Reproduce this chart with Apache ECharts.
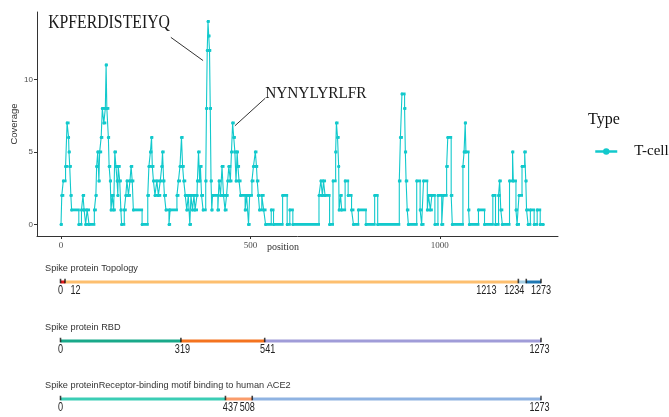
<!DOCTYPE html>
<html><head><meta charset="utf-8">
<script src="https://cdn.jsdelivr.net/npm/echarts@6/dist/echarts.min.js"></script>
<style>html,body{margin:0;padding:0;background:#fff}#c{width:669px;height:417px}</style>
</head><body><div id="c"></div>
<script>
// ---- data ----
// coverage profile: [position, coverage] breakpoints (value holds until next position)
const coverage = [
[0,0],[2,2],[6,3],[12,4],[16,7],[20,6],[21,5],[23,4],[26,2],[28,1],[47,0],[54,1],[58,2],[61,1],[65,0],[69,1],[74,0],
[88,1],[92,2],[94,4],[97,5],[100,3],[102,5],[106,6],[109,8],[113,7],[117,8],[119,11],[121,8],[125,6],[127,4],[130,3],
[132,1],[135,2],[139,1],[142,5],[145,4],[148,3],[150,2],[151,4],[155,3],[158,1],[160,0],[167,1],[171,2],[174,3],[178,2],
[182,3],[185,4],[188,3],[191,1],[214,0],[229,2],[232,4],[236,5],[239,6],[241,4],[244,3],[248,2],[253,3],[257,2],[262,3],
[266,4],[268,5],[271,3],[273,2],[277,1],[285,0],[288,1],[306,2],[310,3],[314,4],[318,6],[321,4],[324,3],[328,2],[332,1],
[336,2],[340,0],[343,2],[347,1],[351,2],[354,1],[359,2],[360,3],[363,5],[366,3],[368,4],[371,2],[375,1],[382,3],[384,8],
[386,12],[388,14],[390,13],[392,12],[394,8],[396,3],[398,1],[400,2],[414,1],[417,3],[421,2],[425,4],[429,2],[433,1],
[437,2],[440,3],[443,4],[447,3],[450,5],[453,7],[456,6],[459,5],[462,3],[465,5],[467,4],[470,3],[474,2],[486,1],[490,2],
[495,0],[498,2],[504,3],[508,4],[513,5],[516,4],[518,3],[521,2],[524,1],[530,2],[535,1],[540,0],[555,1],[561,0],[585,2],
[597,0],[604,1],[612,0],[681,2],[686,3],[690,2],[693,3],[697,2],[709,0],[718,3],[725,5],[727,7],[730,6],[733,4],[734,1],
[738,2],[741,1],[750,3],[758,2],[767,1],[772,0],[785,1],[805,0],[828,2],[836,0],[893,3],[896,6],[900,9],[907,8],[909,5],
[911,3],[914,1],[917,0],[939,3],[948,1],[952,0],[957,3],[967,1],[970,2],[975,1],[979,2],[987,0],[995,2],[1005,0],
[1009,2],[1018,4],[1021,6],[1030,2],[1033,0],[1061,4],[1064,5],[1067,7],[1069,5],[1076,1],[1078,0],[1102,1],[1118,0],
[1140,2],[1147,0],[1155,2],[1158,3],[1161,1],[1165,0],[1184,3],[1192,5],[1194,3],[1201,1],[1204,0],[1209,2],[1217,4],
[1224,5],[1227,3],[1229,1],[1233,0],[1239,1],[1249,0],[1257,1],[1265,0],[1273,0]
];
const xTicks = [0, 500, 1000];
const yTicks = [0, 5, 10];
const seriesName = 'T-cell';
const legendTitle = 'Type';

const topoBreaks = [0, 12, 1213, 1234, 1273];
const rbdBreaks = [0, 319, 541, 1273];
const aceBreaks = [0, 437, 508, 1273];
const trackTitles = ['Spike protein Topology', 'Spike protein RBD', 'Spike proteinReceptor-binding motif binding to human ACE2'];

// annotations: text anchored at data coords, leader line between data coords
const annotations = [
  {text: 'KPFERDISTEIYQ', at: [-34, 13.9], from: [290, 12.9], to: [375, 11.3]},
  {text: 'NYNYLYRLFR', at: [539, 9.05], from: [539, 8.7], to: [459, 6.8]}
];

// ---- styles ----
const traceColor = '#12C9CC';
const annStyle = [{size: 19, scaleX: 0.83}, {size: 17, scaleX: 0.9}];
const trackStyles = [
  {breaks: topoBreaks, colors: ['#E31A1C', '#FDBF6F', '#A6CEE3', '#1F78B4'], lineY: 282, titleY: 268, shifts: [0, 10.5, -32, -12, 0]},
  {breaks: rbdBreaks, colors: ['#19A98A', '#F4731F', '#A09CD8'], lineY: 341, titleY: 327, shifts: [0, 1.5, 3, -1.5]},
  {breaks: aceBreaks, colors: ['#3BCDB5', '#FA9C6B', '#8FB3E2'], lineY: 399, titleY: 385, shifts: [0, 5, -5, -1.5]}
];

const chart = echarts.init(document.getElementById('c'), null, {renderer: 'canvas'});

const grids = [{left: 37, right: 111, top: 12, bottom: 181, containLabel: false, outerBoundsMode: 'none'}];
const xAxes = [{
  type: 'value', gridIndex: 0, min: -63.4, max: 1312,
  axisLine: {show: true, onZero: false, lineStyle: {color: '#333', width: 1}},
  axisTick: {show: true, length: 3, customValues: xTicks, lineStyle: {color: '#333'}},
  axisLabel: {customValues: xTicks, formatter: v => String(v), fontFamily: 'Liberation Serif', fontSize: 9, color: '#4d4d4d', margin: 5},
  splitLine: {show: false},
  name: 'position', nameLocation: 'middle', nameGap: 6, nameMoveOverlap: false,
  nameTextStyle: {fontFamily: 'Liberation Serif', fontSize: 10, color: '#333', padding: [0, 29, 0, 0]}
}];
const yAxes = [{
  type: 'value', gridIndex: 0, min: -0.8, max: 14.65,
  axisLine: {show: true, onZero: false, lineStyle: {color: '#333', width: 1}},
  axisTick: {show: true, length: 3, customValues: yTicks, lineStyle: {color: '#333'}},
  axisLabel: {customValues: yTicks, fontFamily: 'Liberation Sans', fontSize: 8, color: '#4d4d4d', margin: 4},
  splitLine: {show: false},
  name: 'Coverage', nameLocation: 'middle', nameGap: 18, nameMoveOverlap: false,
  nameTextStyle: {fontFamily: 'Liberation Sans', fontSize: 9.5, color: '#333'}
}];

const series = [];
series.push({
  type: 'custom', name: 'flat', xAxisIndex: 0, yAxisIndex: 0, silent: true,
  data: coverage.slice(0, -1).map((d, i) => [d[0], coverage[i + 1][0], d[1]]),
  encode: {x: [0, 1], y: 2},
  renderItem: function (params, api) {
    const s = api.coord([api.value(0), api.value(2)]);
    const e = api.coord([api.value(1), api.value(2)]);
    return {type: 'rect', shape: {x: s[0] - 1, y: s[1] - 1.4, width: e[0] - s[0] + 2, height: 2.8}, style: {fill: traceColor}};
  }
});
series.push({
  type: 'line', name: seriesName, xAxisIndex: 0, yAxisIndex: 0, step: 'end',
  data: coverage, symbol: 'circle', symbolSize: 3, showSymbol: true,
  lineStyle: {color: traceColor, width: 1.1}, itemStyle: {color: traceColor},
  markLine: {
    silent: true, symbol: ['none', 'none'], animation: false,
    lineStyle: {color: '#333', width: 1, type: 'solid'}, label: {show: false},
    data: annotations.map(a => [{coord: a.from}, {coord: a.to}])
  }
});

trackStyles.forEach((t, ti) => {
  const gi = ti + 1;
  grids.push({left: 60.5, right: 128, top: t.lineY - 5, height: 10, containLabel: false, outerBoundsMode: 'none'});
  xAxes.push({type: 'value', gridIndex: gi, min: 0, max: 1273, show: false});
  yAxes.push({type: 'value', gridIndex: gi, min: -1, max: 1, show: false});
  for (let i = 0; i < t.breaks.length - 1; i++) {
    series.push({
      type: 'line', xAxisIndex: gi, yAxisIndex: gi, silent: true, symbol: 'none',
      data: [[t.breaks[i], 0], [t.breaks[i + 1], 0]],
      lineStyle: {color: t.colors[i], width: 3, cap: 'butt'}
    });
  }
  series.push({
    type: 'scatter', xAxisIndex: gi, yAxisIndex: gi, silent: true, z: 5,
    data: t.breaks.map(b => [b, 0]), symbol: 'rect', symbolSize: [1.6, 4.5], symbolOffset: [0, -1],
    itemStyle: {color: '#111'}
  });
});

chart.setOption({
  animation: false,
  backgroundColor: '#fff',
  title: {text: legendTitle, left: 588, top: 112, padding: 0,
    textStyle: {fontFamily: 'Liberation Serif', fontSize: 16, fontWeight: 'normal', color: '#111'}},
  legend: {data: [seriesName], left: 594, top: 144, padding: 0, itemWidth: 22, itemHeight: 8,
    lineStyle: {width: 2.5},
    textStyle: {fontFamily: 'Liberation Serif', fontSize: 15, color: '#111', padding: [0, 0, 0, 12]}},
  grid: grids, xAxis: xAxes, yAxis: yAxes, series: series
});

// text elements placed through the chart's own coordinate conversion
const g = [];
annotations.forEach((a, i) => {
  const p = chart.convertToPixel({gridIndex: 0}, a.at);
  g.push({type: 'text', x: p[0], y: p[1], scaleX: annStyle[i].scaleX, silent: true,
    style: {text: a.text, font: annStyle[i].size + 'px "Liberation Serif"', fill: '#1a1a1a', textAlign: 'left', textVerticalAlign: 'middle'}});
});
trackStyles.forEach((t, ti) => {
  g.push({type: 'text', x: 45, y: t.titleY, silent: true,
    style: {text: trackTitles[ti], font: '9.2px "Liberation Sans"', fill: '#333', textAlign: 'left', textVerticalAlign: 'middle'}});
  t.breaks.forEach((b, i) => {
    const p = chart.convertToPixel({gridIndex: ti + 1}, [b, 0]);
    g.push({type: 'text', x: p[0] + t.shifts[i], y: p[1] + 8.5, scaleX: 0.7, silent: true,
      style: {text: String(b), font: '13px "Liberation Sans"', fill: '#222', textAlign: 'center', textVerticalAlign: 'middle'}});
  });
});
chart.setOption({graphic: g});
</script>
</body></html>
